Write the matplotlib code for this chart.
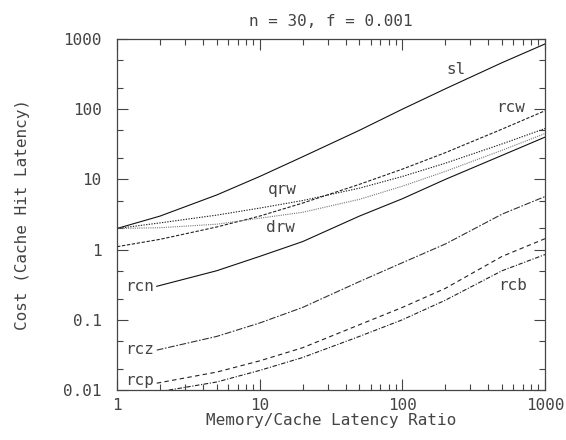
import matplotlib
matplotlib.use("Agg")
import matplotlib.pyplot as plt
from matplotlib.ticker import LogLocator, NullFormatter, FixedLocator, FixedFormatter

# ---- data ----
x_full = [1, 2, 5, 10, 20, 50, 100, 200, 500, 1000]
sl  = [2, 3, 6, 11, 21, 50, 100, 195, 460, 850]
rcw = [1.1, 1.4, 2.1, 3.0, 4.6, 8.5, 14, 24, 52, 95]
qrw = [2, 2.4, 3.1, 3.9, 5.0, 7.5, 11, 17, 32, 53]
drw = [2, 2.05, 2.3, 2.8, 3.4, 5.2, 8, 13, 26, 45]

x_low = [1.9, 5, 10, 20, 50, 100, 200, 500, 1000]
rcn = [0.3, 0.5, 0.8, 1.3, 3.0, 5.3, 10, 22, 40]
rcz = [0.037, 0.058, 0.09, 0.15, 0.35, 0.65, 1.2, 3.2, 5.7]
rcp = [0.0125, 0.018, 0.026, 0.04, 0.085, 0.15, 0.28, 0.8, 1.43]

x_rcb = [2, 5, 10, 20, 50, 100, 200, 500, 1000]
rcb = [0.0095, 0.013, 0.019, 0.029, 0.058, 0.1, 0.19, 0.5, 0.85]

title = "n = 30, f = 0.001"
xlabel = "Memory/Cache Latency Ratio"
ylabel = "Cost (Cache Hit Latency)"
xticks = [1, 10, 100, 1000]
xtick_labels = ["1", "10", "100", "1000"]
yticks = [0.01, 0.1, 1, 10, 100, 1000]
ytick_labels = ["0.01", "0.1", "1", "10", "100", "1000"]

labels = {
    "sl": (236, 363), "rcw": (575, 105), "qrw": (14.5, 7.1), "drw": (14, 2.05),
    "rcn": (1.45, 0.3), "rcz": (1.45, 0.038), "rcp": (1.45, 0.0137), "rcb": (590, 0.31),
}

# ---- figure ----
FONT = "DejaVu Sans Mono"
TC = "#444444"
FS = 11.5
fig = plt.figure(figsize=(5.66, 4.40), dpi=100)
ax = fig.add_axes([117/566, 1 - 390/440, (545-117)/566, (390-39)/440])
ax.set_xscale("log")
ax.set_yscale("log")
ax.set_xlim(1, 1000)
ax.set_ylim(0.01, 1000)

lw = 0.8
ax.plot(x_full, sl, color="#111111", lw=lw, ls="-")
ax.plot(x_full, rcw, color="#222222", lw=lw, ls=(0, (3, 1.5)))
ax.plot(x_full, qrw, color="#222222", lw=lw, ls=(0, (1.2, 1.2)))
ax.plot(x_full, drw, color="#777777", lw=lw, ls=(0, (1, 1)))
ax.plot(x_low, rcn, color="#111111", lw=lw, ls="-")
ax.plot(x_low, rcz, color="#333333", lw=lw, ls=(0, (6, 1.5, 1.5, 1.5)))
ax.plot(x_low, rcp, color="#222222", lw=lw, ls=(0, (4, 3)))
ax.plot(x_rcb, rcb, color="#222222", lw=lw, ls=(0, (4, 1.5, 1, 1.5)))

for name, (lx, ly) in labels.items():
    ax.text(lx, ly, name, ha="center", va="center", fontsize=FS, family=FONT, color=TC)

ax.xaxis.set_major_locator(FixedLocator(xticks))
ax.xaxis.set_major_formatter(FixedFormatter(xtick_labels))
ax.yaxis.set_major_locator(FixedLocator(yticks))
ax.yaxis.set_major_formatter(FixedFormatter(ytick_labels))
ax.xaxis.set_minor_locator(LogLocator(base=10, subs=range(2, 10)))
ax.yaxis.set_minor_locator(LogLocator(base=10, subs=(2, 5)))
ax.xaxis.set_minor_formatter(NullFormatter())
ax.yaxis.set_minor_formatter(NullFormatter())

ax.tick_params(which="both", direction="in", top=True, right=True, colors="#444444",
               labelcolor=TC, labelsize=FS, width=0.8)
ax.tick_params(which="major", length=8)
ax.tick_params(which="minor", length=4)
ax.tick_params(axis="x", pad=6)
ax.tick_params(axis="y", pad=11)
for lab in ax.get_xticklabels() + ax.get_yticklabels():
    lab.set_family(FONT)
for sp in ax.spines.values():
    sp.set_color("#444444")
    sp.set_linewidth(0.9)

ax.set_title(title, fontsize=FS, family=FONT, color=TC, pad=9)
ax.set_xlabel(xlabel, fontsize=FS, family=FONT, color=TC, labelpad=0)
ax.set_ylabel(ylabel, fontsize=FS, family=FONT, color=TC, labelpad=24)

fig.savefig("out.png", dpi=100)
